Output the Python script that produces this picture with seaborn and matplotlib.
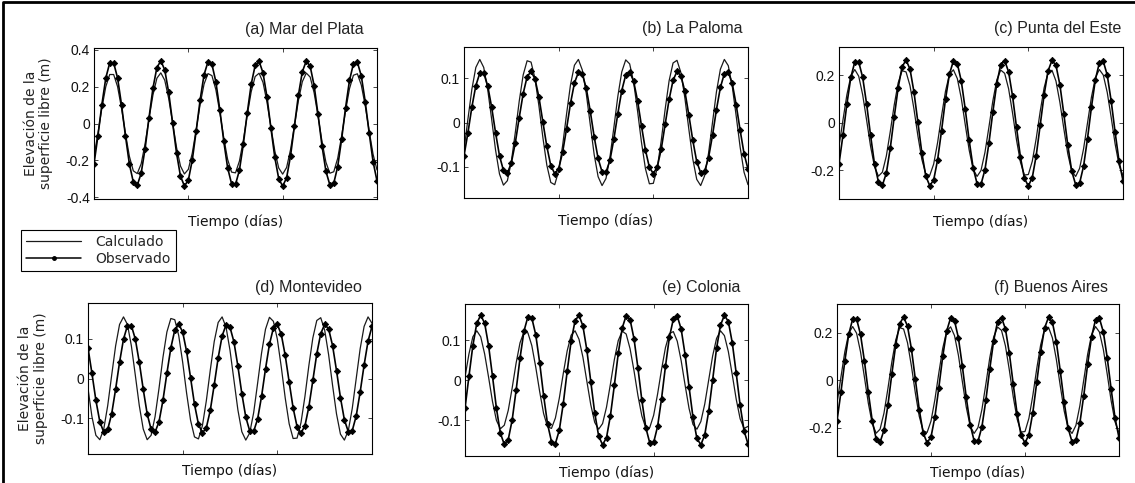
import numpy as np
import matplotlib
matplotlib.use('Agg')
import matplotlib.pyplot as plt
from matplotlib.lines import Line2D
import seaborn as sns

# hourly samples over 3 days
hours = list(range(73))

# (a) Mar del Plata
mdp_calc = [-0.178, -0.054, 0.083, 0.200, 0.266, 0.266, 0.200, 0.083, -0.054, -0.178,
            -0.257, -0.272, -0.219, -0.110, 0.026, 0.155, 0.246, 0.275, 0.235, 0.136,
            0.004, -0.130, -0.231, -0.274, -0.249, -0.161, -0.033, 0.104, 0.214, 0.271,
            0.260, 0.184, 0.062, -0.076, -0.195, -0.264, -0.268, -0.204, -0.090, 0.048,
            0.173, 0.255, 0.273, 0.223, 0.117, -0.018, -0.149, -0.242, -0.275, -0.239,
            -0.142, -0.011, 0.124, 0.227, 0.274, 0.252, 0.167, 0.040, -0.097, -0.210,
            -0.270, -0.262, -0.189, -0.068, 0.069, 0.189, 0.262, 0.270, 0.209, 0.097,
            -0.040, -0.167, -0.252]
mdp_obs = [-0.220, -0.067, 0.102, 0.247, 0.329, 0.329, 0.247, 0.102, -0.067, -0.220,
           -0.318, -0.336, -0.270, -0.136, 0.032, 0.192, 0.304, 0.340, 0.291, 0.169,
           0.004, -0.161, -0.286, -0.339, -0.308, -0.199, -0.040, 0.128, 0.265, 0.335,
           0.321, 0.227, 0.076, -0.094, -0.241, -0.327, -0.331, -0.253, -0.111, 0.059,
           0.214, 0.315, 0.338, 0.275, 0.145, -0.023, -0.184, -0.300, -0.340, -0.295,
           -0.176, -0.013, 0.153, 0.281, 0.339, 0.311, 0.206, 0.049, -0.120, -0.259,
           -0.333, -0.324, -0.234, -0.085, 0.085, 0.234, 0.324, 0.333, 0.259, 0.119,
           -0.050, -0.207, -0.312]

# (b) La Paloma
lp_calc = [-0.062, 0.008, 0.075, 0.124, 0.142, 0.124, 0.075, 0.008, -0.062, -0.116,
           -0.141, -0.131, -0.088, -0.023, 0.048, 0.107, 0.139, 0.136, 0.099, 0.037,
           -0.034, -0.096, -0.135, -0.140, -0.109, -0.052, 0.019, 0.085, 0.129, 0.142,
           0.118, 0.065, -0.004, -0.072, -0.122, -0.142, -0.126, -0.078, -0.011, 0.059,
           0.114, 0.141, 0.132, 0.091, 0.026, -0.045, -0.104, -0.138, -0.137, -0.102,
           -0.041, 0.030, 0.094, 0.134, 0.140, 0.112, 0.055, -0.015, -0.082, -0.128,
           -0.142, -0.120, -0.069, 0.000, 0.069, 0.120, 0.142, 0.128, 0.082, 0.015,
           -0.055, -0.112, -0.140]
lp_obs = [-0.075, -0.023, 0.035, 0.083, 0.111, 0.111, 0.083, 0.035, -0.023, -0.075,
          -0.108, -0.114, -0.091, -0.046, 0.011, 0.065, 0.103, 0.115, 0.098, 0.057,
          0.001, -0.054, -0.097, -0.115, -0.104, -0.067, -0.014, 0.043, 0.089, 0.113,
          0.109, 0.077, 0.026, -0.032, -0.081, -0.111, -0.112, -0.085, -0.037, 0.020,
          0.072, 0.107, 0.114, 0.093, 0.049, -0.008, -0.062, -0.101, -0.115, -0.100,
          -0.060, -0.004, 0.052, 0.095, 0.115, 0.105, 0.070, 0.017, -0.040, -0.088,
          -0.113, -0.110, -0.079, -0.029, 0.029, 0.079, 0.110, 0.113, 0.088, 0.040,
          -0.017, -0.070, -0.105]

# (c) Punta del Este
pde_calc = [-0.098, 0.012, 0.119, 0.197, 0.225, 0.197, 0.119, 0.012, -0.098, -0.184,
            -0.224, -0.207, -0.139, -0.036, 0.076, 0.169, 0.220, 0.215, 0.157, 0.059,
            -0.054, -0.153, -0.214, -0.221, -0.173, -0.082, 0.030, 0.134, 0.205, 0.224,
            0.187, 0.104, -0.006, -0.114, -0.194, -0.225, -0.200, -0.124, -0.018, 0.093,
            0.181, 0.223, 0.209, 0.144, 0.042, -0.071, -0.165, -0.219, -0.217, -0.161,
            -0.065, 0.048, 0.148, 0.212, 0.222, 0.177, 0.087, -0.024, -0.130, -0.203,
            -0.225, -0.191, -0.109, 0.000, 0.109, 0.191, 0.225, 0.202, 0.129, 0.024,
            -0.088, -0.177, -0.222]
pde_obs = [-0.172, -0.052, 0.080, 0.192, 0.257, 0.257, 0.192, 0.080, -0.052, -0.172,
           -0.248, -0.262, -0.211, -0.106, 0.025, 0.149, 0.237, 0.265, 0.227, 0.131,
           0.003, -0.125, -0.223, -0.264, -0.240, -0.155, -0.032, 0.100, 0.206, 0.261,
           0.250, 0.177, 0.059, -0.073, -0.188, -0.255, -0.258, -0.197, -0.086, 0.046,
           0.166, 0.246, 0.263, 0.215, 0.113, -0.018, -0.144, -0.233, -0.265, -0.230,
           -0.137, -0.010, 0.119, 0.219, 0.264, 0.243, 0.161, 0.038, -0.093, -0.202,
           -0.260, -0.253, -0.182, -0.066, 0.067, 0.183, 0.253, 0.260, 0.202, 0.093,
           -0.039, -0.161, -0.243]

# (d) Montevideo
mvd_calc = [-0.025, -0.096, -0.143, -0.154, -0.127, -0.068, 0.008, 0.082, 0.136, 0.155,
            0.136, 0.082, 0.008, -0.068, -0.127, -0.154, -0.143, -0.096, -0.025, 0.053,
            0.117, 0.151, 0.148, 0.108, 0.041, -0.037, -0.105, -0.147, -0.152, -0.119,
            -0.056, 0.021, 0.093, 0.141, 0.155, 0.129, 0.071, -0.004, -0.079, -0.134,
            -0.155, -0.137, -0.086, -0.012, 0.064, 0.124, 0.154, 0.144, 0.099, 0.029,
            -0.049, -0.114, -0.151, -0.150, -0.111, -0.045, 0.033, 0.102, 0.146, 0.153,
            0.122, 0.060, -0.017, -0.089, -0.140, -0.155, -0.131, -0.075, 0.000, 0.075,
            0.131, 0.155, 0.139]
mvd_obs = [0.077, 0.013, -0.055, -0.109, -0.135, -0.128, -0.089, -0.027, 0.041, 0.099,
           0.133, 0.133, 0.099, 0.041, -0.027, -0.089, -0.128, -0.135, -0.109, -0.055,
           0.013, 0.077, 0.122, 0.137, 0.117, 0.068, 0.002, -0.065, -0.115, -0.137,
           -0.124, -0.080, -0.016, 0.052, 0.107, 0.135, 0.129, 0.092, 0.031, -0.038,
           -0.097, -0.132, -0.133, -0.102, -0.045, 0.024, 0.086, 0.127, 0.136, 0.111,
           0.058, -0.009, -0.074, -0.121, -0.137, -0.119, -0.071, -0.005, 0.062, 0.113,
           0.136, 0.125, 0.083, 0.020, -0.048, -0.104, -0.134, -0.131, -0.094, -0.034,
           0.034, 0.094, 0.131]

# (e) Colonia
col_calc = [0.007, 0.065, 0.108, 0.123, 0.108, 0.065, 0.007, -0.054, -0.101, -0.122,
            -0.113, -0.076, -0.020, 0.042, 0.093, 0.120, 0.118, 0.086, 0.032, -0.029,
            -0.084, -0.117, -0.121, -0.095, -0.045, 0.016, 0.073, 0.112, 0.123, 0.102,
            0.057, -0.003, -0.062, -0.106, -0.123, -0.109, -0.068, -0.010, 0.051, 0.099,
            0.122, 0.115, 0.078, 0.023, -0.039, -0.090, -0.120, -0.119, -0.088, -0.035,
            0.026, 0.081, 0.116, 0.121, 0.097, 0.048, -0.013, -0.071, -0.111, -0.123,
            -0.104, -0.060, 0.000, 0.060, 0.104, 0.123, 0.111, 0.071, 0.013, -0.048,
            -0.097, -0.121, -0.116]
col_obs = [-0.071, 0.009, 0.086, 0.142, 0.162, 0.142, 0.086, 0.009, -0.071, -0.133,
           -0.161, -0.149, -0.100, -0.026, 0.055, 0.122, 0.158, 0.155, 0.113, 0.043,
           -0.039, -0.110, -0.154, -0.159, -0.125, -0.059, 0.022, 0.097, 0.148, 0.162,
           0.135, 0.075, -0.004, -0.082, -0.140, -0.162, -0.144, -0.089, -0.013, 0.067,
           0.130, 0.161, 0.151, 0.103, 0.030, -0.051, -0.119, -0.157, -0.156, -0.116,
           -0.047, 0.034, 0.107, 0.152, 0.160, 0.127, 0.063, -0.017, -0.093, -0.146,
           -0.162, -0.137, -0.078, 0.000, 0.079, 0.137, 0.162, 0.146, 0.093, 0.017,
           -0.063, -0.127, -0.160]

# (f) Buenos Aires
ba_calc = [-0.098, 0.012, 0.119, 0.197, 0.225, 0.197, 0.119, 0.012, -0.098, -0.184,
           -0.224, -0.207, -0.139, -0.036, 0.076, 0.169, 0.220, 0.215, 0.157, 0.059,
           -0.054, -0.153, -0.214, -0.221, -0.173, -0.082, 0.030, 0.134, 0.205, 0.224,
           0.187, 0.104, -0.006, -0.114, -0.194, -0.225, -0.200, -0.124, -0.018, 0.093,
           0.181, 0.223, 0.209, 0.144, 0.042, -0.071, -0.165, -0.219, -0.217, -0.161,
           -0.065, 0.048, 0.148, 0.212, 0.222, 0.177, 0.087, -0.024, -0.130, -0.203,
           -0.225, -0.191, -0.109, 0.000, 0.109, 0.191, 0.225, 0.202, 0.129, 0.024,
           -0.088, -0.177, -0.222]
ba_obs = [-0.172, -0.052, 0.080, 0.192, 0.257, 0.257, 0.192, 0.080, -0.052, -0.172,
          -0.248, -0.262, -0.211, -0.106, 0.025, 0.149, 0.237, 0.265, 0.227, 0.131,
          0.003, -0.125, -0.223, -0.264, -0.240, -0.155, -0.032, 0.100, 0.206, 0.261,
          0.250, 0.177, 0.059, -0.073, -0.188, -0.255, -0.258, -0.197, -0.086, 0.046,
          0.166, 0.246, 0.263, 0.215, 0.113, -0.018, -0.144, -0.233, -0.265, -0.230,
          -0.137, -0.010, 0.119, 0.219, 0.264, 0.243, 0.161, 0.038, -0.093, -0.202,
          -0.260, -0.253, -0.182, -0.066, 0.067, 0.183, 0.253, 0.260, 0.202, 0.093,
          -0.039, -0.161, -0.243]

titles = ['(a) Mar del Plata', '(b) La Paloma', '(c) Punta del Este',
          '(d) Montevideo', '(e) Colonia', '(f) Buenos Aires']
calc_series = [mdp_calc, lp_calc, pde_calc, mvd_calc, col_calc, ba_calc]
obs_series = [mdp_obs, lp_obs, pde_obs, mvd_obs, col_obs, ba_obs]
ytick_vals = [[-0.4, -0.2, 0, 0.2, 0.4], [-0.1, 0, 0.1], [-0.2, 0, 0.2],
              [-0.1, 0, 0.1], [-0.1, 0, 0.1], [-0.2, 0, 0.2]]
ylims = [0.41, 0.17, 0.32, 0.19, 0.19, 0.32]

# Figure setup
sns.set_style('ticks')
plt.rcParams['font.family'] = ['DejaVu Sans']

W, H = 1135, 483
fig = plt.figure(figsize=(W / 100, H / 100), dpi=100)

# axes boxes in pixels: left, right, top, bottom
px_boxes = [(94, 377, 48, 199), (464, 748, 47, 198), (839, 1123, 47, 199),
            (88, 372, 303, 454), (465, 748, 304, 456), (837, 1119, 304, 456)]
title_inset = [13, 6, 2, 10, 8, 11]
title_up = [14, 14, 14, 11, 12, 12]
xlabel_pad = [8, 8, 8, 4, 4, 4]

t_days = np.array(hours) / 24.0

for i in range(6):
    l, r, tp, bt = px_boxes[i]
    ax = fig.add_axes([l / W, 1 - bt / H, (r - l) / W, (bt - tp) / H])
    sns.lineplot(x=t_days, y=calc_series[i], ax=ax, color='#1a1a1a',
                 linewidth=0.9, estimator=None)
    sns.lineplot(x=t_days, y=obs_series[i], ax=ax, color='black', linewidth=1.2,
                 marker='D', markersize=3.2, markeredgecolor='black',
                 markeredgewidth=0.6, estimator=None)

    ax.set_xlim(0, 3)
    ax.set_xticks([0, 1, 2, 3])
    ax.set_xticklabels([])
    ax.set_ylim(-ylims[i], ylims[i])
    ax.set_yticks(ytick_vals[i])
    ax.set_yticklabels(['0' if v == 0 else f'{v:g}' for v in ytick_vals[i]],
                       fontfamily='Liberation Sans', fontsize=10, color='#111111')
    ax.tick_params(direction='in', top=True, right=True, length=3, width=0.6, pad=3)
    for sp in ax.spines.values():
        sp.set_color('black')
        sp.set_linewidth(0.8)

    ax.set_xlabel('Tiempo (días)', fontsize=10, labelpad=xlabel_pad[i], color='#111111')
    if i in (0, 3):
        ax.set_ylabel('Elevación de la\nsuperficie libre (m)', fontsize=10,
                      linespacing=1.15, labelpad=9, color='#222222')
    else:
        ax.set_ylabel('')

    w_px = r - l
    h_px = bt - tp
    ax.text(1 - title_inset[i] / w_px, 1 + title_up[i] / h_px, titles[i],
            transform=ax.transAxes, ha='right', va='baseline', fontsize=11.5,
            fontfamily='Liberation Sans', color='#222222')

# Legend
handles = [Line2D([], [], color='#1a1a1a', lw=0.9),
           Line2D([], [], color='black', lw=1.1, marker='o', markersize=2.5)]
leg = fig.legend(handles=handles, labels=['Calculado', 'Observado'],
                 loc='upper left', bbox_to_anchor=(21 / W, 1 - 230 / H),
                 frameon=True, fancybox=False, edgecolor='black', framealpha=1,
                 fontsize=10, handlelength=4.0, borderpad=0.35, labelspacing=0.2,
                 handletextpad=1.0, borderaxespad=0)
leg.get_frame().set_linewidth(0.8)

# Frame on top and left edge
fig.add_artist(Line2D([0.003, 0.003, 1], [0, 0.995, 0.995],
                      transform=fig.transFigure, color='black', lw=2))

fig.savefig('out.png', dpi=100)
